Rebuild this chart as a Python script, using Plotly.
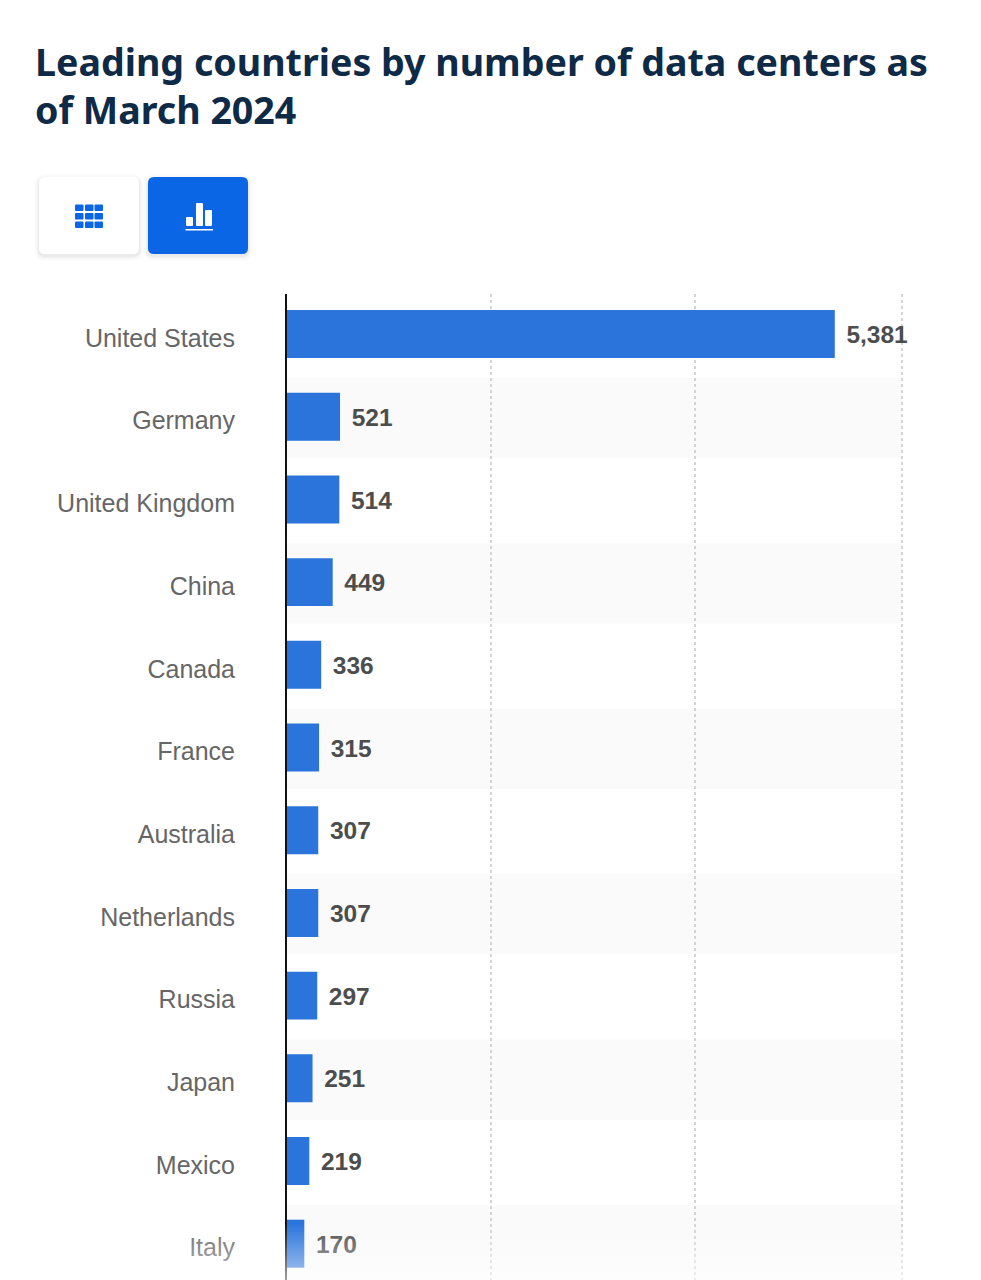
import plotly.graph_objects as go

TITLE = "Leading countries by number of data centers as<br>of March 2024"
COUNTRIES = ["United States", "Germany", "United Kingdom", "China", "Canada", "France",
             "Australia", "Netherlands", "Russia", "Japan", "Mexico", "Italy"]
DATA_CENTERS = [5381, 521, 514, 449, 336, 315, 307, 307, 297, 251, 219, 170]
GRID_VALUES = [2008, 4007, 6039]
SHADED_ROWS = [1, 3, 5, 7, 9, 11]

W, H = 981, 1280
L, R, T, B = 287, 903, 294, 1280
AX_MAX = 6051
BAND_END = 6039
ROW_H = 82.7
BLUE_BAR = "#2a74dc"
BLUE_UI = "#0a66e4"


def px(x):
    return (x - L) / (R - L)


def py(y):
    return (B - y) / (B - T)


def rrect(x0, y0, x1, y1, r=6):
    a, b, c, d = px(x0), px(x1), py(y0), py(y1)
    rx, ry = r / (R - L), r / (B - T)
    return (f"M{a+rx},{c} L{b-rx},{c} Q{b},{c} {b},{c-ry} L{b},{d+ry} Q{b},{d} {b-rx},{d} "
            f"L{a+rx},{d} Q{a},{d} {a},{d+ry} L{a},{c-ry} Q{a},{c} {a+rx},{c} Z")


def paper_rect(x0, y0, x1, y1, color, opacity=1.0, layer="above"):
    return dict(type="rect", xref="paper", yref="paper", x0=px(x0), x1=px(x1), y0=py(y0), y1=py(y1),
                fillcolor=color, opacity=opacity, line_width=0, layer=layer)


shapes = []
# alternating row bands
for row in SHADED_ROWS:
    shapes.append(dict(type="rect", xref="x", yref="y", x0=0, x1=BAND_END, y0=row - 0.47, y1=row + 0.5,
                       fillcolor="#fafafa", line_width=0, layer="below"))

# toggle buttons with soft shadow
for bx0, bx1 in [(39, 139), (148, 248)]:
    for grow, op in [(5, 0.012), (3.5, 0.016), (2, 0.022), (1, 0.03)]:
        shapes.append(dict(type="path", xref="paper", yref="paper",
                           path=rrect(bx0 - grow, 177 - grow + 2, bx1 + grow, 254 + grow + 2, 6 + grow),
                           fillcolor="#000000", opacity=op, line_width=0, layer="above"))
shapes.append(dict(type="path", xref="paper", yref="paper", path=rrect(39, 177, 139, 254),
                   fillcolor="#ffffff", line_width=0, layer="above"))
shapes.append(dict(type="path", xref="paper", yref="paper", path=rrect(148, 177, 248, 254),
                   fillcolor=BLUE_UI, line_width=0, layer="above"))

# table icon
for cx in [75, 85, 94.5]:
    for cy in [204.5, 213, 221.5]:
        shapes.append(dict(type="path", xref="paper", yref="paper",
                           path=rrect(cx, cy, cx + 8.5, cy + 6.5, 1), fillcolor=BLUE_UI, line_width=0, layer="above"))

# chart icon
for x0, y0, x1 in [(186, 217, 193), (196, 203, 203), (205, 210, 212)]:
    shapes.append(dict(type="path", xref="paper", yref="paper",
                       path=rrect(x0, y0, x1, 226, 1), fillcolor="#ffffff", line_width=0, layer="above"))
shapes.append(paper_rect(185.5, 229, 213, 230.5, "#ffffff"))

# page-bottom fade
FADE_TOP, FADE_BOTTOM, FADE_STEP = 1222, 1280, 2
y = FADE_TOP
while y < FADE_BOTTOM:
    frac = (y - FADE_TOP) / (FADE_BOTTOM - FADE_TOP)
    shapes.append(paper_rect(0, y, W, y + FADE_STEP, "#ffffff", opacity=0.6 * frac))
    y += FADE_STEP

fig = go.Figure()
fig.add_trace(go.Bar(
    x=DATA_CENTERS, y=COUNTRIES, orientation="h", width=0.58,
    marker=dict(color=BLUE_BAR, line_width=0), hoverinfo="skip", showlegend=False,
))
fig.add_trace(go.Scatter(
    x=DATA_CENTERS, y=COUNTRIES, yaxis="y2", mode="markers+text",
    text=[f"{v:,}" for v in DATA_CENTERS], textposition="middle right",
    textfont=dict(family="Liberation Sans", size=24.5, color="#4d4d4d", weight="bold"),
    marker=dict(size=17, opacity=0), cliponaxis=False, hoverinfo="skip", showlegend=False,
))

Y_RANGE = [(B - 334) / ROW_H, -0.484]
LABEL_DROP = 3 / ROW_H

fig.update_layout(
    width=W, height=H, autosize=False,
    margin=dict(l=L, r=W - R, t=T, b=H - B, pad=0),
    paper_bgcolor="#ffffff", plot_bgcolor="#ffffff",
    title=dict(text=TITLE, x=35 / W, xanchor="left", xref="container",
               y=1 - 75.5 / H, yanchor="middle", yref="container",
               font=dict(family="Noto Sans", size=37.6, color="#0f2a46", weight="bold")),
    shapes=shapes, showlegend=False,
    xaxis=dict(range=[0, AX_MAX], tickvals=GRID_VALUES, showticklabels=False, ticks="",
               showgrid=True, gridcolor="#d4d4d4", griddash="dot", gridwidth=2,
               zeroline=False, showline=False),
    yaxis=dict(type="category", categoryorder="array", categoryarray=COUNTRIES,
               range=Y_RANGE, ticks="", showline=True, linecolor="#111111",
               linewidth=2, showgrid=False, zeroline=False, ticklabelstandoff=45, ticklabelshift=-4,
               tickfont=dict(family="Liberation Sans", size=25, color="#666666")),
    yaxis2=dict(type="category", categoryorder="array", categoryarray=COUNTRIES, overlaying="y",
                range=[Y_RANGE[0] - LABEL_DROP, Y_RANGE[1] - LABEL_DROP], visible=False),
)
fig.write_html("out.html", post_script="document.body.style.margin='0';document.documentElement.style.overflow='hidden';",
               config={"displayModeBar": False})
